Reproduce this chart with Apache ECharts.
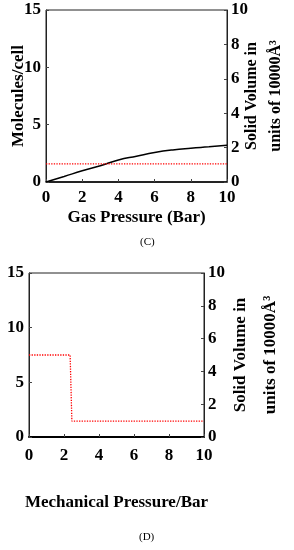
<!DOCTYPE html>
<html><head><meta charset="utf-8">
<script src="https://cdn.jsdelivr.net/npm/echarts@6/dist/echarts.min.js"></script>
<style>html,body{margin:0;padding:0;background:#fff}#c{width:294px;height:550px}</style>
</head><body><div id="c"></div>
<script>
// Panel C: gas pressure
const gasPressure = [0, 1, 2, 3, 4, 5, 6, 7, 8, 9, 10];
const gasMolecules = [0, 0.48, 0.98, 1.42, 1.92, 2.25, 2.57, 2.8, 2.95, 3.07, 3.2];
const gasSolidX = [0, 10];
const gasSolidVolume = [1.05, 1.05];
// Panel D: mechanical pressure
const mechPressure = [0, 2.35, 2.45, 10];
const mechSolidVolume = [5.0, 5.0, 0.97, 0.97];
const xTicks = [0, 2, 4, 6, 8, 10];

const F = 'Liberation Serif';
const lab = {color:'#000', fontFamily:F, fontWeight:'bold', fontSize:17};
const grids = [
  {left:46, top:10, width:181, height:172, show:true, borderColor:'#222', borderWidth:1, outerBoundsMode:'none', containLabel:false},
  {left:29, top:273, width:175, height:164, show:true, borderColor:'#222', borderWidth:1, outerBoundsMode:'none', containLabel:false}
];
function xa(i, name, gap, margin){
  return {type:'value', gridIndex:i, min:0, max:10, interval:2, name:name,
    nameLocation:'middle', nameGap:gap, nameMoveOverlap:false, nameTextStyle:Object.assign({}, lab, {fontSize:17}),
    axisLine:{show:true, onZero:false, lineStyle:{color:'#000', width:i===1?2:1.5}},
    axisTick:{show:true, inside:true, length:3, lineStyle:{color:'#444'}},
    axisLabel:Object.assign({margin:margin}, lab), splitLine:{show:false}};
}
function yl(i, name){
  return {type:'value', gridIndex:i, position:'left', min:0, max:15, interval:5, name:name,
    nameLocation:'middle', nameGap:19, nameRotate:90, nameMoveOverlap:false,
    nameTextStyle:Object.assign({}, lab, {fontSize:17}),
    axisLine:{show:true, lineStyle:{color:'#222'}},
    axisTick:{show:true, inside:true, length:3, lineStyle:{color:'#444'}},
    axisLabel:Object.assign({margin:5}, lab), splitLine:{show:false}};
}
function yr(i, gap, fs, lh){
  return {type:'value', gridIndex:i, position:'right', min:0, max:10, interval:2,
    name:'Solid Volume in\nunits of 10000Å³', nameLocation:'middle', nameGap:gap, nameRotate:90,
    nameMoveOverlap:false,
    nameTextStyle:Object.assign({}, lab, {fontSize:fs, lineHeight:lh}),
    axisLine:{show:true, lineStyle:{color:'#222'}},
    axisTick:{show:true, inside:true, length:3, lineStyle:{color:'#444'}},
    axisLabel:Object.assign({margin:4}, lab), splitLine:{show:false}};
}
const chart = echarts.init(document.getElementById('c'), null, {renderer:'canvas'});
chart.setOption({
  animation:false,
  grid:grids,
  xAxis:[xa(0,'Gas Pressure (Bar)',27,7), xa(1,'Mechanical Pressure/Bar',57,10)],
  yAxis:[yl(0,'Molecules/cell'), yr(0,13,16,24), yl(1,''), yr(1,22,17,30)],
  series:[
    {type:'line', xAxisIndex:0, yAxisIndex:0, showSymbol:false, smooth:true,
     lineStyle:{color:'#000', width:1.5},
     data:gasPressure.map((x,k)=>[x, gasMolecules[k]])},
    {type:'line', xAxisIndex:0, yAxisIndex:1, showSymbol:false,
     lineStyle:{color:'#ff0000', width:1.3, type:'dotted'},
     data:gasSolidX.map((x,k)=>[x, gasSolidVolume[k]])},
    {type:'line', xAxisIndex:1, yAxisIndex:3, showSymbol:false,
     lineStyle:{color:'#ff0000', width:1.3, type:'dotted'},
     data:mechPressure.map((x,k)=>[x, mechSolidVolume[k]])}
  ],
  graphic:[
    {type:'text', left:140, top:237, style:{text:'(C)', font:'11px "Liberation Serif"', fill:'#000'}},
    {type:'text', left:139, top:532, style:{text:'(D)', font:'11px "Liberation Serif"', fill:'#000'}}
  ]
});
</script></body></html>
